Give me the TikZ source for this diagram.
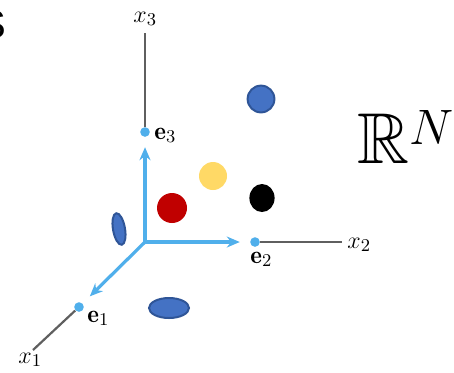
\documentclass[tikz,border=0pt]{standalone}
\usepackage{amsmath, amssymb}
\usepackage{fontspec}
\newfontfamily\slidefont{Liberation Sans}
\usetikzlibrary{arrows.meta}
\definecolor{axisblue}{RGB}{80,175,235}
\definecolor{axisgray}{RGB}{95,95,95}
\definecolor{blobblue}{RGB}{68,114,196}
\definecolor{blobedge}{RGB}{47,85,151}
\definecolor{blobyellow}{RGB}{255,217,102}
\definecolor{blobred}{RGB}{192,0,0}

\begin{document}
\begin{tikzpicture}[x=0.5pt, y=-0.5pt, >={Stealth[length=6.5pt, width=5.5pt]},
  axis/.style={axisgray, line width=1.1pt},
  basis/.style={axisblue, line width=1.6pt, ->, shorten >=5pt},
  dot/.style={circle, fill=axisblue, inner sep=0pt, minimum size=4.8pt},
  lbl/.style={anchor=base west, inner sep=0pt, font=\fontsize{12.5}{15}\selectfont},
  blob/.style={fill=blobblue, draw=blobedge, line width=1pt}]
  \useasboundingbox (0,0) rectangle (454,372);
  \clip (0,0) rectangle (454,372);

  % title letter, cut off at the left edge
  \node[anchor=base east, inner sep=0pt, font=\slidefont\fontsize{20}{24}\selectfont] (title) at (7,38) {S};

  % origin, axis ends and basis points
  \coordinate (O) at (145,242);
  \coordinate (x1end) at (33,350);
  \coordinate (x2end) at (342,242);
  \coordinate (x3end) at (145,33);
  \node[dot] (e1) at (79,307) {};
  \node[dot] (e2) at (255,242) {};
  \node[dot] (e3) at (145,132) {};

  % gray axes beyond the basis vectors
  \draw[axis] (e1) -- (x1end);
  \draw[axis] (e2) -- (x2end);
  \draw[axis] (e3) -- (x3end);

  % basis vectors
  \draw[basis] (O) -- (e1);
  \draw[basis] (O) -- (e2);
  \draw[basis] (O) -- (e3);

  % labels
  \node[lbl] (e1lbl) at (87,322) {$\mathbf{e}_1$};
  \node[lbl] (e2lbl) at (250,263) {$\mathbf{e}_2$};
  \node[lbl] (e3lbl) at (154,139) {$\mathbf{e}_3$};
  \node[lbl] (x1lbl) at (18,363) {$x_1$};
  \node[lbl] (x2lbl) at (347,248) {$x_2$};
  \node[lbl] (x3lbl) at (133,22) {$x_3$};

  % data points
  \filldraw[blob] (261,99) circle (6.7pt);
  \fill[blobyellow] (213,176) circle (7pt);
  \fill[black] (262,198) ellipse [x radius=6.3pt, y radius=7pt];
  \fill[blobred] (172,208) circle (7.5pt);
  \filldraw[blob, rotate around={10:(119,229)}] (119,229) ellipse [x radius=3pt, y radius=8pt];
  \filldraw[blob] (169,308) ellipse [x radius=10pt, y radius=5pt];

  % space
  \node[anchor=base west, inner sep=0pt, font=\fontsize{36}{40}\selectfont] (space) at (357,163) {$\mathbb{R}^N$};
\end{tikzpicture}
\end{document}
